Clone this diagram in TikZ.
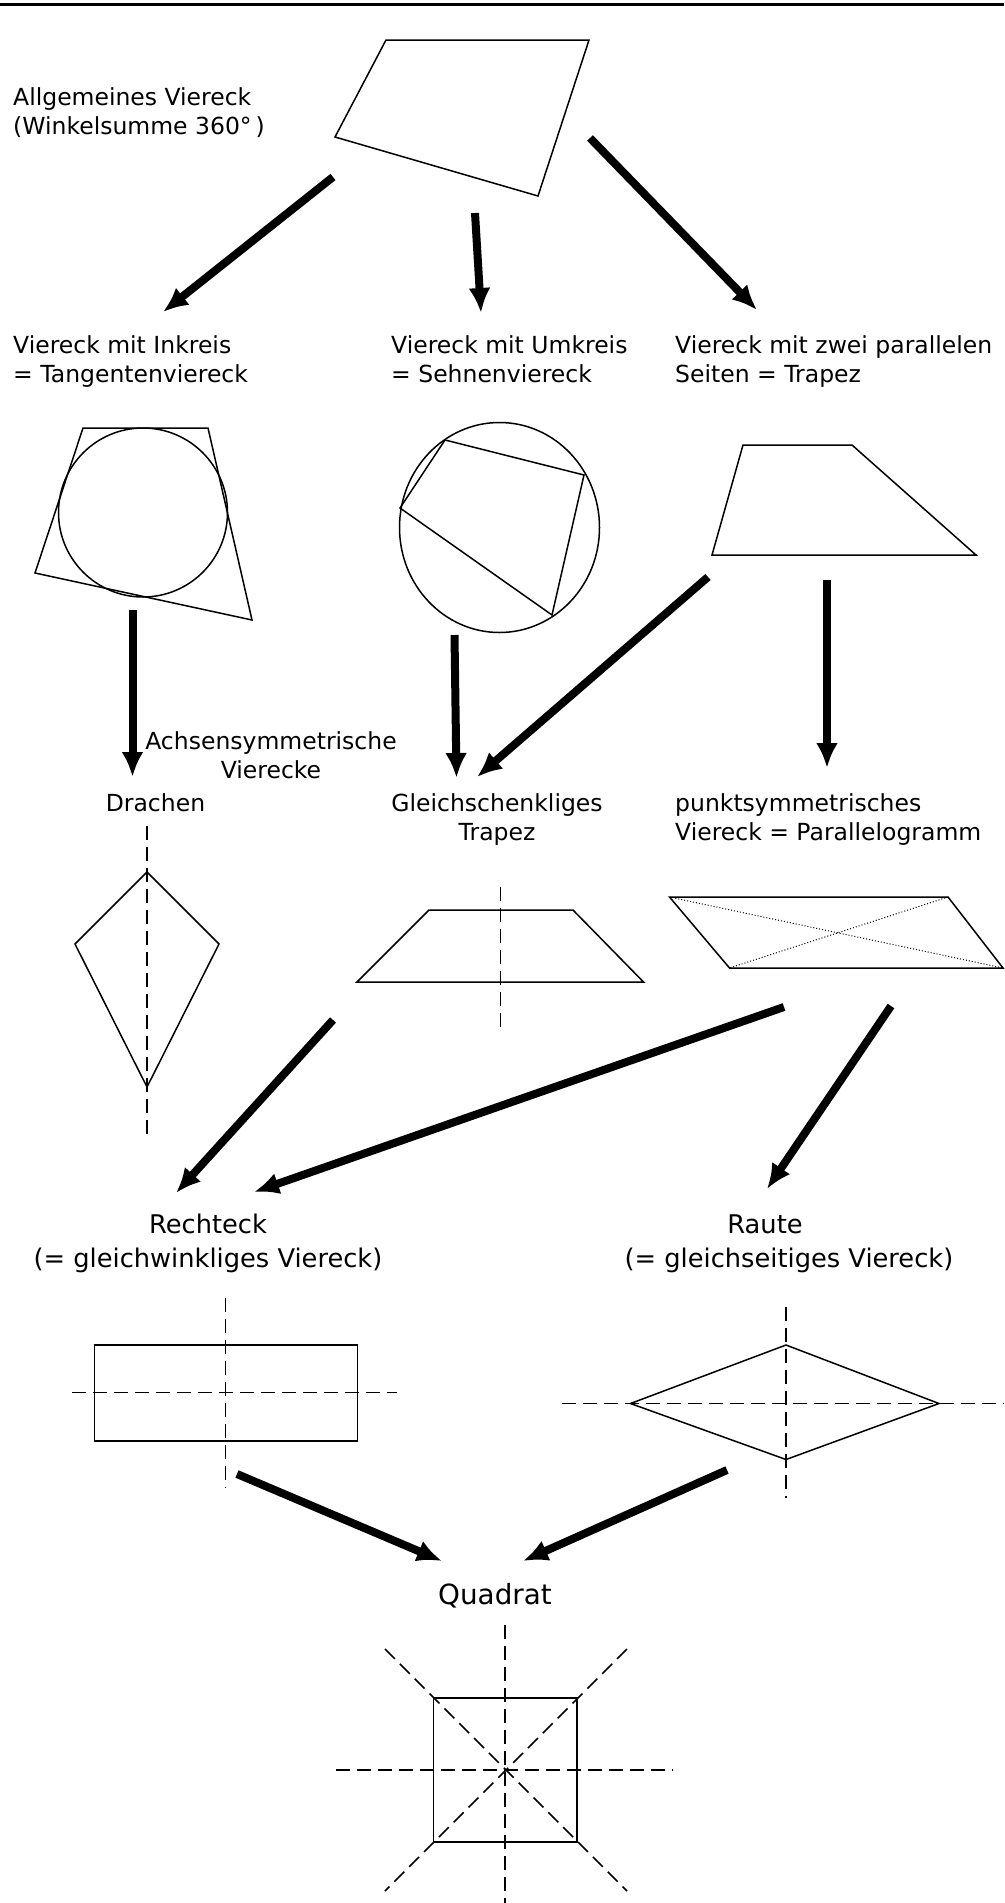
\documentclass[tikz,border=0pt]{standalone}
\usepackage{fontspec}
\setmainfont{DejaVu Sans}
\usetikzlibrary{arrows.meta}
\begin{document}
\begin{tikzpicture}[x=1pt,y=-1pt,
  fig/.style={line width=1.5pt, line join=miter},
  symaxis/.style={line width=1.5pt, dash pattern=on 14pt off 7pt},
  diagdot/.style={line width=1pt, dotted},
  bigarrow/.style={line width=8pt, -{Latex[length=25pt,width=22pt]}},
  lbl/.style={inner sep=0pt, font=\fontsize{23.5}{29.5}\selectfont},
  lblbig/.style={inner sep=0pt, font=\fontsize{25.7}{34}\selectfont},
  lblq/.style={inner sep=0pt, font=\fontsize{27.8}{34}\selectfont},
]
\useasboundingbox (0,0) rectangle (1004,1903);
% top rule
\draw[line width=3pt] (0,4) -- (1004,4);

% ---------- texts (base anchor = baseline of the last line) ----------
\node[lbl, anchor=base west, align=left] (allg) at (13,134.5) {Allgemeines Viereck\\(Winkelsumme 360°\,)};
\node[lbl, anchor=base west, align=left] (tang) at (13,382.5) {Viereck mit Inkreis\\= Tangentenviereck};
\node[lbl, anchor=base west, align=left] (sehn) at (391,382.5) {Viereck mit Umkreis\\= Sehnenviereck};
\node[lbl, anchor=base west, align=left] (trap) at (675,382.5) {Viereck mit zwei parallelen\\Seiten = Trapez};
\node[lbl, anchor=base, align=center] (achs) at (271,778.5) {Achsensymmetrische\\Vierecke};
\node[lbl, anchor=base] (drach) at (155.5,811) {Drachen};
\node[lbl, anchor=base, align=center] (gltr) at (497,840.5) {Gleichschenkliges\\Trapez};
\node[lbl, anchor=base west, align=left] (para) at (675,840.5) {punktsymmetrisches\\Viereck = Parallelogramm};
\node[lblbig, anchor=base, align=center] (recht) at (208,1267) {Rechteck\\(= gleichwinkliges Viereck)};
\node[lblbig, anchor=base] (raute) at (765,1233) {Raute};
\node[lblbig, anchor=base] (rautesub) at (789,1267) {(= gleichseitiges Viereck)};
\node[lblq, anchor=base] (quad) at (495,1604) {Quadrat};

% ---------- shapes ----------
% general quadrilateral
\draw[fig] (386,40) -- (589,40) -- (538,196) -- (335,137) -- cycle;
% tangential quadrilateral
\draw[fig] (83,428) -- (208,428) -- (252,620) -- (35,573) -- cycle;
\draw[fig] (143,512.5) circle [radius=84.5pt];
% cyclic quadrilateral
\draw[fig] (499.5,527.5) ellipse [x radius=100pt, y radius=105pt];
\draw[fig] (445,440) -- (584,475) -- (552,615) -- (400,508) -- cycle;
% trapezoid
\draw[fig] (743,445) -- (852,445) -- (976,555) -- (712,555) -- cycle;
% kite
\draw[fig] (147,872) -- (219,944) -- (147,1087) -- (75,944) -- cycle;
\draw[symaxis] (147,826) -- (147,1136);
% isosceles trapezoid
\draw[fig] (429,910) -- (573,910) -- (643.5,982) -- (357,982) -- cycle;
\draw[symaxis] (500.5,887) -- (500.5,1031);
% parallelogram
\draw[fig] (669.5,897) -- (948,897) -- (1003,968) -- (729.5,968) -- cycle;
\draw[diagdot] (669.5,897) -- (1003,968);
\draw[diagdot] (948,897) -- (729.5,968);
% rectangle
\draw[fig] (94.5,1345) rectangle (357.5,1441);
\draw[symaxis] (225.5,1298) -- (225.5,1488);
\draw[symaxis] (72,1392.5) -- (397,1392.5);
% rhombus
\draw[fig] (786,1345) -- (939,1403.5) -- (786,1459.5) -- (630.5,1403.5) -- cycle;
\draw[symaxis] (786,1307) -- (786,1498);
\draw[symaxis] (562,1403.5) -- (1004,1403.5);
% square
\draw[fig] (433.5,1698) rectangle (577,1842);
\draw[symaxis] (505,1625) -- (505,1903);
\draw[symaxis] (336,1770) -- (673,1770);
\draw[symaxis] (385,1649) -- (627,1891);
\draw[symaxis] (627,1649) -- (385,1891);

% ---------- connectors ----------
\coordinate (a1s) at (333,177);   \coordinate (a1e) at (163,312);
\coordinate (a2s) at (475,213);   \coordinate (a2e) at (481,313);
\coordinate (a3s) at (590,138);   \coordinate (a3e) at (757,310);
\coordinate (b1s) at (132.5,610); \coordinate (b1e) at (132.5,777);
\coordinate (b2s) at (454.5,635); \coordinate (b2e) at (456.5,778);
\coordinate (b3s) at (708,577);   \coordinate (b3e) at (477,777);
\coordinate (b4s) at (827,580);   \coordinate (b4e) at (827,768);
\coordinate (c1s) at (333,1020);  \coordinate (c1e) at (176,1193);
\coordinate (c2s) at (784,1007);  \coordinate (c2e) at (254,1192);
\coordinate (c3s) at (891,1006);  \coordinate (c3e) at (767,1189);
\coordinate (d1s) at (237,1474);  \coordinate (d1e) at (442,1561);
\coordinate (d2s) at (727,1470);  \coordinate (d2e) at (523,1561);
\foreach \a in {a1,a2,a3,b1,b2,b3,b4,c1,c2,c3,d1,d2}
  \draw[bigarrow] (\a s) -- (\a e);
\end{tikzpicture}
\end{document}
